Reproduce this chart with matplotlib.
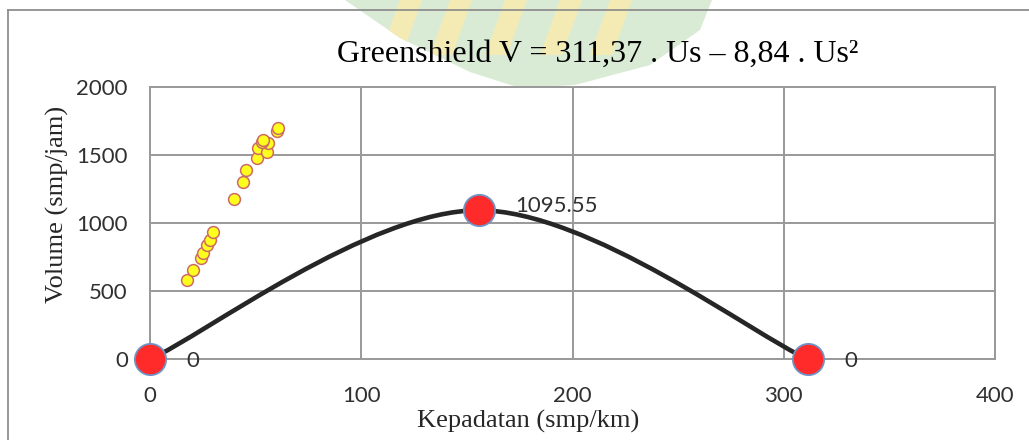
import matplotlib
matplotlib.use("Agg")
import matplotlib.pyplot as plt
import numpy as np
from matplotlib.path import Path
from matplotlib.patches import PathPatch, Polygon
from matplotlib.lines import Line2D

# observed density / volume pairs
kepadatan = [17.4, 20.5, 24.0, 25.2, 26.8, 28.4, 30.0, 39.9, 44.2, 45.3,
             50.5, 51.3, 55.3, 56.0, 52.9, 53.6, 60.0, 60.7]
volume = [583, 657, 743, 779, 840, 876, 938, 1181, 1306, 1392,
          1478, 1551, 1526, 1588, 1600, 1612, 1679, 1699]

# Greenshield model: jam density, density at capacity, capacity
model_k = [0, 155.685, 311.37]
model_v = [0, 1095.55, 0]
model_labels = ["0", "1095.55", "0"]

title = "Greenshield V = 311,37 . Us \u2013 8,84 . Us\u00b2"
x_ticks = [0, 100, 200, 300, 400]
y_ticks = [0, 500, 1000, 1500, 2000]

W, H = 1029, 440
fig = plt.figure(figsize=(W / 100, H / 100), dpi=100)
fig.patch.set_facecolor("white")

# faint logo watermark behind the title
shield = Polygon([(345 / W, 1), (712 / W, 1), (700 / W, 1 - 30 / H), (650 / W, 1 - 65 / H),
                  (575 / W, 1 - 85 / H), (520 / W, 1 - 88 / H), (470 / W, 1 - 72 / H),
                  (400 / W, 1 - 38 / H)], closed=True, transform=fig.transFigure,
                 facecolor="#d9ebd4", edgecolor="none", zorder=0)
fig.add_artist(shield)
for x0 in [400, 450, 505, 560, 610]:
    band = Polygon([(x0 / W, 1), ((x0 + 22) / W, 1), ((x0 + 2) / W, 1 - 55 / H),
                    ((x0 - 20) / W, 1 - 55 / H)], closed=True, transform=fig.transFigure,
                   facecolor="#f4ebb4", edgecolor="none", zorder=0)
    band.set_clip_path(shield)
    fig.add_artist(band)

# chart frame
frame_col = "#8f8f8f"
fig.add_artist(Line2D([8 / W, 1], [1 - 10 / H, 1 - 10 / H], transform=fig.transFigure,
                      color=frame_col, lw=1.3))
fig.add_artist(Line2D([8 / W, 8 / W], [0, 1 - 10 / H], transform=fig.transFigure,
                      color=frame_col, lw=1.3))

ax = fig.add_axes([150 / W, 1 - 359.3 / H, 845 / W, 272 / H])
ax.set_facecolor("none")

grid_col = "#999999"
ax.set_xlim(0, 400)
ax.set_ylim(0, 2000)
ax.set_xticks(x_ticks)
ax.set_yticks(y_ticks)
ax.grid(True, color=grid_col, lw=1.4)
ax.set_axisbelow(True)
for s in ax.spines.values():
    s.set_color(grid_col)
    s.set_linewidth(1.4)
ax.tick_params(length=0, labelsize=16, labelcolor="#303030")
ax.tick_params(axis="x", pad=19)
ax.tick_params(axis="y", pad=16)
for lab in ax.get_xticklabels() + ax.get_yticklabels():
    lab.set_fontfamily("Lato")

# smoothed model curve (Catmull-Rom style Bezier through the three model points)
P = np.column_stack([model_k, model_v]).astype(float)
k = 1 / 6
verts = [P[0],
         P[0] + k * (P[1] - P[0]), P[1] - k * (P[2] - P[0]), P[1],
         P[1] + k * (P[2] - P[0]), P[2] - k * (P[2] - P[1]), P[2]]
codes = [Path.MOVETO] + [Path.CURVE4] * 6
ax.add_patch(PathPatch(Path(verts, codes), facecolor="none", edgecolor="#262626",
                       lw=3.3, capstyle="round", zorder=3))

ax.plot(kepadatan, volume, "o", ms=8.5, mfc="#ffff1e", mec="#cd6a63", mew=1.1,
        zorder=4, clip_on=False)
ax.plot(model_k, model_v, "o", ms=22.5, mfc="#ff2a2a", mec="#6f93c6", mew=1.3,
        zorder=5, clip_on=False)
for xk, yv, txt in zip(model_k, model_v, model_labels):
    dy = 3 if yv > 0 else -1
    ax.annotate(txt, (xk, yv), xytext=(26, dy), textcoords="offset points",
                ha="left", va="center", fontsize=16, color="#303030",
                fontfamily="Lato", zorder=6)

fig.text(598 / W, 1 - 61.7 / H, title, ha="center", va="baseline",
         fontsize=23, fontfamily="Liberation Serif", color="black")
fig.text(528 / W, 1 - 428 / H, "Kepadatan (smp/km)", ha="center", va="baseline",
         fontsize=19, fontfamily="Liberation Serif", color="#262626")
fig.text(57 / W, 1 - 204 / H, "Volume (smp/jam)", ha="center", va="center",
         rotation=90, fontsize=19, fontfamily="Liberation Serif", color="#262626")

fig.savefig("out.png", dpi=100)
